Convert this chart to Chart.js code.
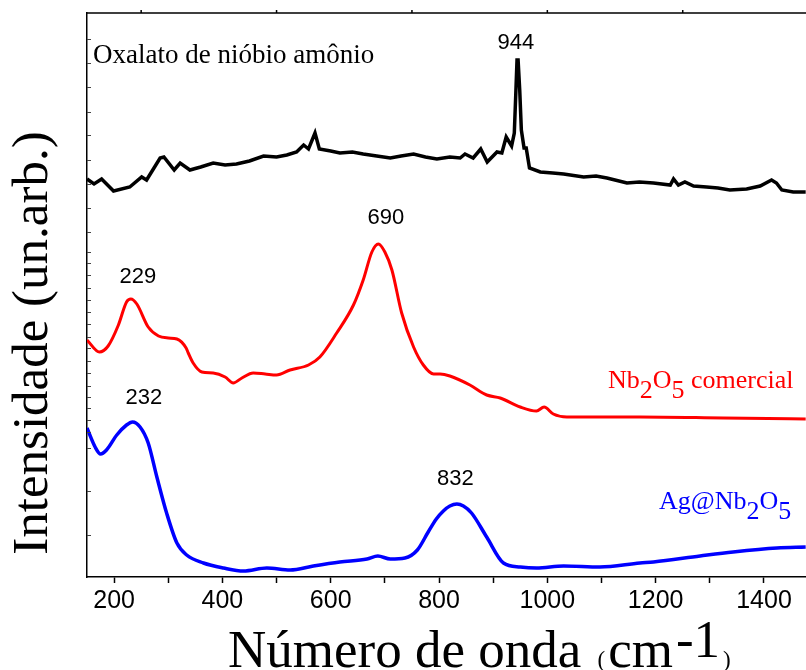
<!DOCTYPE html>
<html lang="pt">
<head>
<meta charset="utf-8">
<title>Espectros Raman</title>
<script src="https://cdn.jsdelivr.net/npm/chart.js@4.4.1/dist/chart.umd.min.js"></script>
<style>
    html, body { margin: 0; padding: 0; background: #fff; }
    #chartBox { width: 806px; height: 670px; }
</style>
</head>
<body>
<div id="chartBox"><canvas id="ramanChart" width="806" height="670"></canvas></div>
<script>
// Wavenumber axis (cm-1)
const xMin = 150;
const xMax = 1477.6;
const xTickValues = [200, 300, 400, 500, 600, 700, 800, 900, 1000, 1100, 1200, 1300, 1400];
const topTickValues = [250, 500, 750, 1000, 1250];
const yTickValues = [538, 514, 490, 465, 442, 417, 393, 369, 345,
    325, 314, 302, 289, 277, 265, 253, 240, 229, 216, 204, 191, 180, 169, 157, 145,
    129, 86, 42];

// Oxalato de nióbio amônio (black, offset top)
const oxalatoX = [150, 163, 177, 199, 229, 251, 260, 285, 292, 311, 322, 340, 360, 383, 405, 426, 450, 476, 500, 519, 537, 550, 559, 571, 579,
    600, 617, 640, 660, 685, 710, 730, 753, 775, 796, 820, 839, 848, 863, 877, 889, 907, 916, 924, 934, 939, 942, 944, 946, 949, 952, 957, 961, 967,
    987, 1010, 1030, 1067, 1090, 1110, 1147, 1170, 1196, 1227, 1233, 1242, 1254, 1270, 1294, 1315, 1337, 1368, 1393, 1414, 1423, 1433, 1454, 1477];
const oxalatoY = [398, 393, 398, 386, 390, 400, 397, 419, 420, 407, 414, 407, 410, 414, 412, 413, 416, 421, 420, 422, 425, 432, 428, 444, 428,
    426, 424, 425, 423, 421, 419, 421, 423, 420, 418, 420, 419, 423, 419, 428, 415, 425, 424, 440, 431, 444, 487, 517, 517, 487, 447, 429, 429, 409,
    405, 404, 403, 400, 401, 399, 394, 395, 394, 392, 398, 392, 395, 391, 390, 389, 387, 388, 391, 397, 394, 387, 385, 385];

// Nb2O5 comercial (red, middle)
const comercialX = [150, 173, 189, 208, 223, 231, 242, 263, 282, 300, 316, 333, 337, 346, 362, 383, 405, 420, 436, 457, 479,
    500, 525, 559, 580, 611, 642, 660, 676, 688, 700, 713, 731, 753, 771, 790, 802, 820, 857, 888, 913, 950, 980, 994,
    1011, 1036, 1171, 1325, 1477];
const comercialY = [237, 225, 231, 252, 275, 278, 273, 250, 241, 239, 238, 229, 224, 214, 205, 204, 200, 194, 199, 204, 203,
    202, 207, 212, 220, 244, 272, 297, 325, 333, 325, 307, 264, 230, 212, 203, 203, 201, 192, 182, 179, 170, 166, 170,
    163, 160, 160, 159, 158];

// Ag@Nb2O5 (blue, bottom)
const agX = [150, 165, 175, 186, 205, 223, 234, 248, 263, 279, 297, 316, 334, 365, 402, 439, 482, 525, 568, 617, 667, 687,
    710, 737, 760, 780, 795, 808, 820, 833, 845, 860, 888, 919, 950, 980, 1030, 1097, 1171, 1196, 1282, 1343, 1424, 1477];
const agY = [149, 130, 123, 127, 142, 152, 155, 150, 134, 100, 64, 34, 22, 14, 9, 6, 9, 7, 11, 15, 18, 21,
    18, 19, 27, 45, 58, 66, 71, 73, 71, 64, 40, 14, 10, 9, 11, 10, 14, 15, 21, 25, 29, 30];

// Peak annotations
const peakLabels = ['944', '229', '690', '232', '832'];
const peakLabelX = [942, 244, 702, 255, 830];
const peakLabelY = [534, 300, 359, 179, 98];

/**
 * Zip two arrays into {x, y} points for a linear x scale
 */
function toPoints(xs, ys) {
    return xs.map((x, i) => ({ x: x, y: ys[i] }));
}

/**
 * Draw text with subscripts: parts is a list of [text, isSub]
 */
function drawRichText(ctx, parts, x, y, size, color) {
    ctx.fillStyle = color;
    ctx.textAlign = 'left';
    ctx.textBaseline = 'alphabetic';
    ctx.font = size + 'px "Liberation Serif", "Times New Roman", serif';
    let cx = x;
    parts.forEach(([text, isSub]) => {
        ctx.fillText(text, cx, isSub ? y + 10 : y);
        cx += ctx.measureText(text).width;
    });
}

/**
 * Frame, inward y ticks, labels and axis titles
 */
const decorPlugin = {
    id: 'decor',
    afterDraw(chart) {
        const ctx = chart.ctx;
        const area = chart.chartArea;
        const xs = chart.scales.x;
        const ys = chart.scales.y;

        ctx.save();
        ctx.strokeStyle = '#000';
        ctx.lineWidth = 1.5;

        // top frame line and its small ticks
        ctx.beginPath();
        ctx.moveTo(area.left, area.top);
        ctx.lineTo(area.right, area.top);
        topTickValues.forEach(v => {
            const px = xs.getPixelForValue(v);
            ctx.moveTo(px, area.top);
            ctx.lineTo(px, area.top - 3);
        });
        ctx.stroke();

        // inward minor ticks on the left axis
        ctx.lineWidth = 1;
        ctx.strokeStyle = '#444';
        ctx.beginPath();
        yTickValues.forEach(v => {
            const py = Math.round(ys.getPixelForValue(v)) + 0.5;
            ctx.moveTo(area.left, py);
            ctx.lineTo(area.left + 4, py);
        });
        ctx.stroke();

        // peak labels
        ctx.fillStyle = '#000';
        ctx.font = '22px "Liberation Sans", Arial, sans-serif';
        ctx.textAlign = 'center';
        ctx.textBaseline = 'middle';
        peakLabels.forEach((t, i) => {
            ctx.fillText(t, xs.getPixelForValue(peakLabelX[i]), ys.getPixelForValue(peakLabelY[i]));
        });

        // sample names
        drawRichText(ctx, [['Oxalato de nióbio amônio', false]],
            xs.getPixelForValue(161), ys.getPixelForValue(514), 27, '#000');
        drawRichText(ctx, [['Nb', false], ['2', true], ['O', false], ['5', true], [' comercial', false]],
            xs.getPixelForValue(1112), ys.getPixelForValue(189), 26, '#ff0000');
        drawRichText(ctx, [['Ag@Nb', false], ['2', true], ['O', false], ['5', true]],
            xs.getPixelForValue(1206), ys.getPixelForValue(68), 26, '#0000ff');

        // y axis title
        ctx.save();
        ctx.translate(47, (area.top + area.bottom) / 2 + 48);
        ctx.rotate(-Math.PI / 2);
        ctx.fillStyle = '#000';
        ctx.font = '51px "Liberation Serif", "Times New Roman", serif';
        ctx.textAlign = 'center';
        ctx.textBaseline = 'alphabetic';
        ctx.fillText('Intensidade (un.arb.)', 0, 0);
        ctx.restore();

        // x axis title: big text, small brackets, raised -1
        const big = '53px "Liberation Serif", "Times New Roman", serif';
        const small = '23px "Liberation Serif", "Times New Roman", serif';
        const base = 667;
        let cx = 228;
        ctx.fillStyle = '#000';
        ctx.textAlign = 'left';
        ctx.textBaseline = 'alphabetic';
        [['Número de onda ', big, 0], ['(', small, 0], ['cm', big, 0], ['-1', big, -10], [')', small, 0]]
            .forEach(([t, f, dy]) => {
                ctx.font = f;
                ctx.fillText(t, cx, base + dy);
                cx += ctx.measureText(t).width + (t === ')' ? 0 : 3);
            });

        ctx.restore();
    }
};

document.addEventListener('DOMContentLoaded', function() {
    const canvas = document.getElementById('ramanChart');

    new Chart(canvas, {
        type: 'line',
        data: {
            datasets: [
                {
                    label: 'Oxalato de nióbio amônio',
                    data: toPoints(oxalatoX, oxalatoY),
                    borderColor: '#000000',
                    borderWidth: 3.5,
                    pointRadius: 0,
                    tension: 0
                },
                {
                    label: 'Nb2O5 comercial',
                    data: toPoints(comercialX, comercialY),
                    borderColor: '#ff0000',
                    borderWidth: 3,
                    pointRadius: 0,
                    cubicInterpolationMode: 'monotone'
                },
                {
                    label: 'Ag@Nb2O5',
                    data: toPoints(agX, agY),
                    borderColor: '#0000ff',
                    borderWidth: 3.5,
                    pointRadius: 0,
                    cubicInterpolationMode: 'monotone'
                }
            ]
        },
        options: {
            responsive: false,
            animation: false,
            devicePixelRatio: 1,
            layout: {
                padding: { left: 87, top: 13, right: 0, bottom: 51 }
            },
            scales: {
                x: {
                    type: 'linear',
                    min: xMin,
                    max: xMax,
                    afterBuildTicks: scale => {
                        scale.ticks = xTickValues.map(v => ({ value: v }));
                    },
                    ticks: {
                        callback: v => (v % 200 === 0 ? String(v) : ''),
                        autoSkip: false,
                        maxRotation: 0,
                        padding: 3,
                        color: '#000',
                        font: { family: '"Liberation Sans", Arial, sans-serif', size: 25 }
                    },
                    grid: {
                        display: true,
                        drawOnChartArea: false,
                        drawTicks: true,
                        tickLength: 6,
                        tickColor: '#000',
                        tickWidth: 1.5
                    },
                    border: { display: true, color: '#000', width: 1.5 }
                },
                y: {
                    type: 'linear',
                    min: 0,
                    max: 564,
                    ticks: { display: false },
                    grid: { display: false, drawTicks: false },
                    border: { display: true, color: '#000', width: 1.5 }
                }
            },
            plugins: {
                legend: { display: false },
                tooltip: { enabled: false }
            }
        },
        plugins: [decorPlugin]
    });
});
</script>
</body>
</html>
